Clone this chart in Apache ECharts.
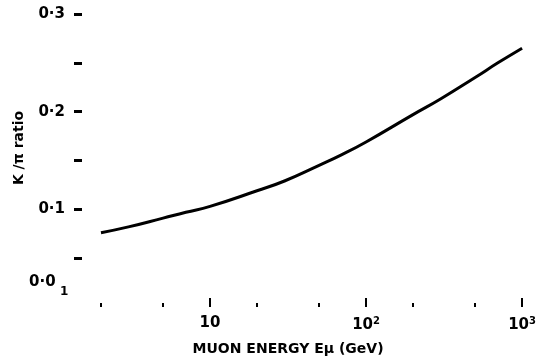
<!DOCTYPE html>
<html>
<head>
<meta charset="utf-8">
<script src="https://cdn.jsdelivr.net/npm/echarts@6/dist/echarts.min.js"></script>
<style>
  html, body { margin: 0; padding: 0; background: #fff; }
  #chart { width: 539px; height: 361px; }
</style>
</head>
<body>
<div id="chart"></div>
<script>
// muon energy (GeV) and K/pi ratio
const energy = [2, 3, 5, 7, 10, 20, 30, 50, 70, 100, 200, 300, 500, 700, 1000]
const ratio = [0.076, 0.082, 0.091, 0.097, 0.103, 0.119, 0.129, 0.145, 0.156, 0.169, 0.197, 0.213, 0.235, 0.250, 0.265]
const minorTicks = [2, 5, 20, 50, 200, 500]
const decadeTicks = [10, 100, 1000]
const yTickValues = [0.05, 0.1, 0.15, 0.2, 0.25, 0.3]
const yLabels = [0.1, 0.2, 0.3]

const font = '"DejaVu Sans", sans-serif'
const chart = echarts.init(document.getElementById('chart'))

const option = {
  backgroundColor: '#fff',
  animation: false,
  grid: { left: 54, right: 11, top: 14, bottom: 54 },
  xAxis: [{
    type: 'log',
    logBase: 10,
    min: 1,
    max: 1000,
    axisLine: { show: false },
    splitLine: { show: false },
    axisTick: {
      show: true, inside: true, length: 4,
      customValues: minorTicks,
      lineStyle: { color: '#000', width: 2 }
    },
    axisLabel: { show: false },
    name: 'MUON ENERGY Eμ (GeV)',
    nameLocation: 'middle',
    nameGap: 35,
    nameTextStyle: { color: '#000', fontFamily: font, fontWeight: 'bold', fontSize: 14 }
  }, {
    type: 'log',
    logBase: 10,
    min: 1,
    max: 1000,
    position: 'bottom',
    axisLine: { show: false },
    splitLine: { show: false },
    axisTick: {
      show: true, inside: true, length: 9,
      customValues: decadeTicks,
      lineStyle: { color: '#000', width: 2 }
    },
    axisLabel: {
      show: true,
      margin: 9,
      customValues: decadeTicks,
      formatter: function (v) {
        if (v === 10) return '10'
        if (v === 100) return '10{sup|2}'
        return '10{sup|3}'
      },
      color: '#000', fontFamily: font, fontWeight: 'bold', fontSize: 15,
      rich: {
        sup: { fontSize: 10, fontWeight: 'bold', fontFamily: font, color: '#000', verticalAlign: 'top', padding: [0, 0, 8, 0] }
      }
    }
  }],
  yAxis: {
    type: 'value',
    min: 0,
    max: 0.3,
    interval: 0.05,
    offset: -28,
    axisLine: { show: false },
    splitLine: { show: false },
    axisTick: { show: true, length: 8, customValues: yTickValues, lineStyle: { color: '#000', width: 3 } },
    axisLabel: {
      margin: 17,
      color: '#000', fontFamily: font, fontWeight: 'bold', fontSize: 15,
      formatter: function (v) {
        const hit = yLabels.find(t => Math.abs(t - v) < 1e-6)
        return hit ? hit.toFixed(1).replace('.', '·') : ''
      }
    }
  },
  graphic: [
    {
      type: 'text', left: 29, top: 275,
      style: { text: '0·0', fill: '#000', font: 'bold 15px ' + font }
    },
    {
      type: 'text', left: 60, top: 286,
      style: { text: '1', fill: '#000', font: 'bold 12px ' + font }
    },
    {
      type: 'text', x: 19, y: 148, rotation: Math.PI / 2,
      style: { text: 'K /π ratio', fill: '#000', font: 'bold 14px ' + font, align: 'center', verticalAlign: 'middle' }
    }
  ],
  series: [{
    type: 'line',
    xAxisIndex: 0,
    data: energy.map((e, i) => [e, ratio[i]]),
    smooth: 0.5,
    showSymbol: false,
    lineStyle: { color: '#000', width: 3 }
  }]
}

chart.setOption(option)
</script>
</body>
</html>
